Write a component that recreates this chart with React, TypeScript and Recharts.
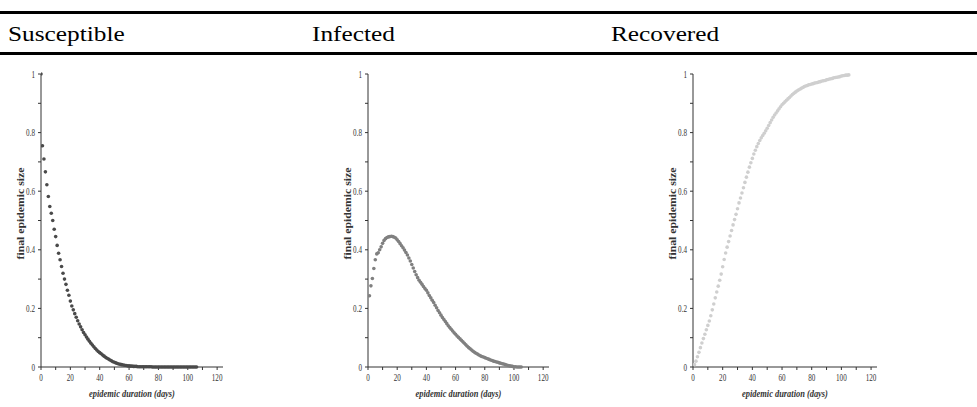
import React from 'react';
import { ScatterChart, Scatter, XAxis, YAxis, Label } from 'recharts';

// x values (epidemic duration, days)
const days = [
  0, 1, 2, 3, 4, 5, 6, 7, 8, 9, 10, 11, 12, 13, 14, 15, 16, 17, 18, 19, 20,
  21, 22, 23, 24, 25, 26, 27, 28, 29, 30, 31, 32, 33, 34, 35, 36, 37, 38, 39, 40,
  41, 42, 43, 44, 45, 46, 47, 48, 49, 50, 51, 52, 53, 54, 55, 56, 57, 58, 59, 60,
  61, 62, 63, 64, 65, 66, 67, 68, 69, 70, 71, 72, 73, 74, 75, 76, 77, 78, 79, 80,
  81, 82, 83, 84, 85, 86, 87, 88, 89, 90, 91, 92, 93, 94, 95, 96, 97, 98, 99, 100,
  101, 102, 103, 104, 105, 106,
];

// Susceptible, days 0..106
const susceptible = [
  1.0, 0.755, 0.71, 0.666, 0.622, 0.582, 0.548, 0.525, 0.5, 0.47, 0.445,
  0.415, 0.388, 0.366, 0.343, 0.32, 0.3, 0.282, 0.262, 0.245, 0.225,
  0.208, 0.195, 0.182, 0.17, 0.158, 0.147, 0.137, 0.127, 0.118, 0.11,
  0.102, 0.095, 0.088, 0.081, 0.075, 0.069, 0.063, 0.058, 0.053, 0.049,
  0.045, 0.041, 0.037, 0.033, 0.03, 0.027, 0.024, 0.021, 0.018, 0.016,
  0.014, 0.012, 0.01, 0.009, 0.008, 0.007, 0.006, 0.005, 0.004, 0.004,
  0.003, 0.003, 0.002, 0.002, 0.002, 0.001, 0.001, 0.001, 0.001, 0.001,
  0.001, 0.001, 0.001, 0.001, 0.001, 0, 0, 0, 0, 0,
  0, 0, 0, 0, 0, 0, 0, 0, 0, 0,
  0, 0, 0, 0, 0, 0, 0, 0, 0, 0,
  0, 0, 0, 0, 0, 0,
];

// Infected, days 0..105 (no point at day 0)
const infected = [
  null, 0.243, 0.277, 0.302, 0.336, 0.366, 0.386, 0.39, 0.4, 0.41, 0.422,
  0.432, 0.438, 0.442, 0.444, 0.445, 0.446, 0.445, 0.443, 0.44, 0.434,
  0.428, 0.421, 0.414, 0.407, 0.399, 0.391, 0.382, 0.372, 0.362, 0.35,
  0.338, 0.326, 0.315, 0.305, 0.296, 0.289, 0.282, 0.275, 0.268, 0.262,
  0.253, 0.244, 0.236, 0.228, 0.22, 0.211, 0.202, 0.193, 0.185, 0.177,
  0.169, 0.162, 0.155, 0.148, 0.141, 0.135, 0.129, 0.123, 0.117, 0.112,
  0.106, 0.101, 0.096, 0.091, 0.086, 0.081, 0.076, 0.071, 0.066, 0.062,
  0.058, 0.054, 0.05, 0.047, 0.044, 0.041, 0.038, 0.036, 0.034, 0.032,
  0.03, 0.028, 0.026, 0.024, 0.022, 0.02, 0.019, 0.017, 0.016, 0.014,
  0.013, 0.011, 0.01, 0.008, 0.007, 0.005, 0.004, 0.003, 0.002, 0.001,
  0.001, 0, 0, 0, 0,
];

// Recovered, days 0..105 (no point at day 0)
const recovered = [
  null, 0.008, 0.02, 0.035, 0.05, 0.066, 0.082, 0.097, 0.112, 0.127, 0.142,
  0.157, 0.175, 0.195, 0.215, 0.236, 0.256, 0.276, 0.296, 0.317, 0.342,
  0.367, 0.389, 0.409, 0.428, 0.447, 0.466, 0.485, 0.503, 0.521, 0.54,
  0.56, 0.577, 0.594, 0.612, 0.63, 0.648, 0.665, 0.682, 0.697, 0.712,
  0.727, 0.74, 0.752, 0.763, 0.773, 0.782, 0.79, 0.798, 0.806, 0.815,
  0.824, 0.834, 0.843, 0.852, 0.86, 0.867, 0.874, 0.881, 0.888, 0.895,
  0.9, 0.905, 0.91, 0.915, 0.92, 0.925, 0.93, 0.934, 0.938, 0.942,
  0.945, 0.948, 0.951, 0.954, 0.957, 0.959, 0.961, 0.963, 0.964, 0.966,
  0.967, 0.969, 0.97, 0.971, 0.973, 0.974, 0.976, 0.977, 0.978, 0.98,
  0.981, 0.983, 0.984, 0.985, 0.987, 0.988, 0.989, 0.99, 0.991, 0.993,
  0.994, 0.995, 0.996, 0.996, 0.997,
];

const xTicks = [0, 10, 20, 30, 40, 50, 60, 70, 80, 90, 100, 110, 120];
const xTickLabels = ['0', '', '20', '', '40', '', '60', '', '80', '', '100', '', '120'];
const yTicks = [0, 0.1, 0.2, 0.3, 0.4, 0.5, 0.6, 0.7, 0.8, 0.9, 1];
const yTickLabels = ['0', '', '0.2', '', '0.4', '', '0.6', '', '0.8', '', '1'];

const headers = ['Susceptible', 'Infected', 'Recovered'];
const xTitle = 'epidemic duration (days)';
const yTitle = 'final epidemic size';

const toPoints = (vals: (number | null)[]) =>
  days
    .map((d, i) => ({ day: d, value: vals[i] }))
    .filter((p) => p.value !== null && p.value !== undefined);

const serif = '"Liberation Serif", "Times New Roman", serif';

const XTick = (p: any) => {
  const label = xTickLabels[xTicks.indexOf(p.payload.value)] ?? '';
  return (
    <text
      transform={`translate(${p.x},${p.y}) scale(0.68,1)`}
      textAnchor="middle"
      dy="0.71em"
      fontSize={10.5}
      fontFamily={serif}
      fill="#333"
    >
      {label}
    </text>
  );
};

const YTick = (p: any) => {
  const label = yTickLabels[yTicks.indexOf(p.payload.value)] ?? '';
  return (
    <text
      transform={`translate(${p.x},${p.y}) scale(0.68,1)`}
      textAnchor="end"
      dy="0.35em"
      fontSize={10.5}
      fontFamily={serif}
      fill="#333"
    >
      {label}
    </text>
  );
};

const XTitle = (props: any) => {
  const vb = props.viewBox || {};
  const cx = vb.x + vb.width / 2;
  const cy = vb.y + 27;
  return (
    <text
      transform={`translate(${cx},${cy}) scale(0.8,1)`}
      textAnchor="middle"
      dominantBaseline="central"
      fontSize={10.5}
      fontWeight="bold"
      fontStyle="italic"
      fontFamily={serif}
      fill="#333"
    >
      {xTitle}
    </text>
  );
};

type PanelProps = {
  left: number;
  axisX: number;
  plotWidth: number;
  values: (number | null)[];
  color: string;
};

const Panel = ({ left, axisX, plotWidth, values, color }: PanelProps) => {
  const yAxisW = axisX - left;
  const width = yAxisW + plotWidth + 4;
  const data = toPoints(values);
  const dot = (p: any) => <circle cx={p.cx} cy={p.cy} r={1.8} fill={color} />;
  const YTitle = (props: any) => {
    const vb = props.viewBox || {};
    const cx = vb.x + 20;
    const cy = vb.y + vb.height / 2 - 7;
    return (
      <text
        transform={`translate(${cx},${cy}) rotate(-90) scale(1.12,1)`}
        textAnchor="middle"
        dominantBaseline="central"
        fontSize={10.5}
        fontWeight="bold"
        fontFamily={serif}
        fill="#333"
      >
        {yTitle}
      </text>
    );
  };
  return (
    <div style={{ position: 'absolute', left, top: 60 }}>
      <ScatterChart width={width} height={347} margin={{ top: 14, right: 4, bottom: 0, left: 0 }}>
        <XAxis
          type="number"
          dataKey="day"
          domain={[0, 124]}
          ticks={xTicks}
          interval={0}
          height={40}
          tickSize={3}
          tickMargin={4}
          stroke="#333"
          tick={XTick}
          allowDataOverflow
        >
          <Label content={XTitle} />
        </XAxis>
        <YAxis
          type="number"
          dataKey="value"
          domain={[0, 1]}
          ticks={yTicks}
          interval={0}
          width={yAxisW}
          tickSize={3}
          tickMargin={3}
          stroke="#333"
          tick={YTick}
        >
          <Label content={YTitle} />
        </YAxis>
        <Scatter data={data} fill={color} shape={dot} isAnimationActive={false} />
      </ScatterChart>
    </div>
  );
};

export default function App() {
  const headerX = [8, 312, 611];
  return (
    <div
      style={{
        position: 'absolute',
        left: 0,
        top: 0,
        width: 977,
        height: 407,
        background: '#fff',
        overflow: 'hidden',
        fontFamily: serif,
      }}
    >
      <div style={{ position: 'absolute', left: 0, top: 11, width: 977, height: 3, background: '#000' }} />
      <div style={{ position: 'absolute', left: 0, top: 52, width: 977, height: 3, background: '#000' }} />
      {headers.map((h, i) => (
        <div
          key={h}
          style={{
            position: 'absolute',
            left: headerX[i],
            top: 21,
            fontSize: 22,
            lineHeight: '26px',
            color: '#000',
            transform: 'scaleX(1.15)',
            transformOrigin: 'left top',
            whiteSpace: 'nowrap',
          }}
        >
          {h}
        </div>
      ))}
      <Panel left={0} axisX={41} plotWidth={182} values={susceptible} color="#4a4a4a" />
      <Panel left={327} axisX={368} plotWidth={181} values={infected} color="#808080" />
      <Panel left={652} axisX={693} plotWidth={184} values={recovered} color="#cfcfcf" />
    </div>
  );
}
